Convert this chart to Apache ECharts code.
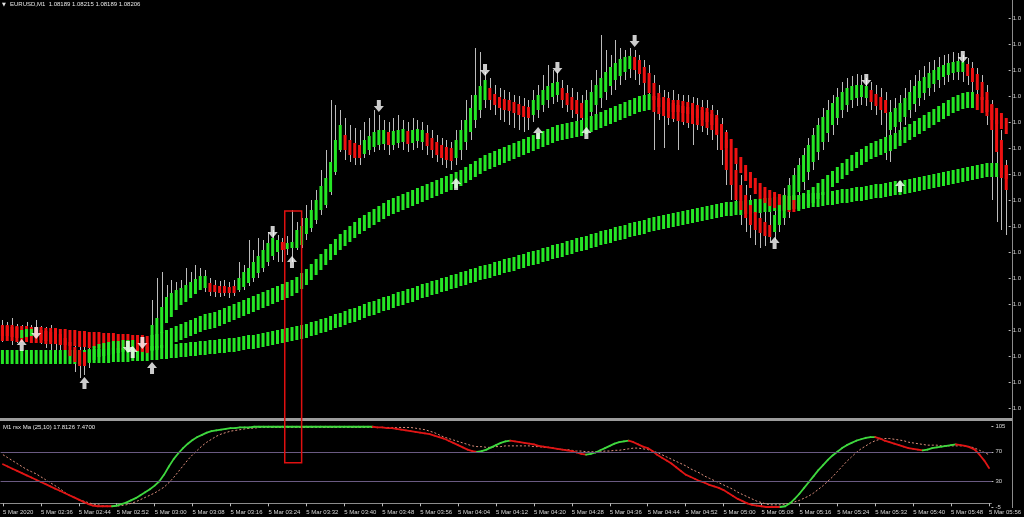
<!DOCTYPE html>
<html><head><meta charset="utf-8">
<script src="https://cdn.jsdelivr.net/npm/echarts@6/dist/echarts.min.js"></script>
<style>html,body{margin:0;padding:0;background:#000;overflow:hidden}#c{width:1024px;height:517px}</style>
</head><body><div id="c"></div>
<script>
// ---------- data ----------
const symbolName = 'EURUSD,M1';
const quote = [1.08189, 1.08215, 1.08189, 1.08206];
const oscName = 'M1 rsx Ma (25,10)';
const oscValues = [17.8126, 7.4700];
const priceBase = 1.07936;           // price = priceBase + points / 100000
const startMinute = 2 * 60 + 28;     // first bar 02:28
const barCount = 209;
const timeTickLabels = ['5 Mar 2020','5 Mar 02:36','5 Mar 02:44','5 Mar 02:52','5 Mar 03:00','5 Mar 03:08','5 Mar 03:16','5 Mar 03:24','5 Mar 03:32','5 Mar 03:40','5 Mar 03:48','5 Mar 03:56','5 Mar 04:04','5 Mar 04:12','5 Mar 04:20','5 Mar 04:28','5 Mar 04:36','5 Mar 04:44','5 Mar 04:52','5 Mar 05:00','5 Mar 05:08','5 Mar 05:16','5 Mar 05:24','5 Mar 05:32','5 Mar 05:40','5 Mar 05:48','5 Mar 05:56'];
const timeTickEvery = 8;
const priceTicks = [92,118,144,170,196,222,248,274,300,326,352,378,404,430,456,482];
const oscTicks = [-5, 30, 70, 105];
const oscLevels = [30, 70];

// price bars (points)
const barHigh = [180,178,182,176,175,178,175,180,174,173,175,170,168,167,162,160,155,158,155,160,162,160,163,164,162,165,166,164,162,160,163,200,222,228,215,220,218,220,232,228,235,232,230,222,220,219,220,218,220,238,235,260,250,262,260,268,270,265,262,264,290,278,282,295,300,310,330,350,400,395,390,382,375,372,370,378,382,390,385,380,378,382,385,380,378,382,380,378,375,370,365,362,360,358,370,380,400,405,452,448,428,422,415,412,410,408,405,404,402,400,410,415,425,435,430,428,420,415,412,408,405,410,420,430,465,450,445,460,452,450,452,450,445,440,435,425,415,410,408,410,406,405,405,403,402,400,400,395,390,382,370,355,340,325,315,305,300,295,290,288,295,305,312,322,332,342,352,362,372,382,392,400,405,412,418,422,424,426,425,422,418,415,412,408,400,402,405,412,420,425,430,434,438,440,443,445,446,448,447,445,442,438,432,425,415,400,385,370,340];
const barLow = [158,160,155,157,160,160,158,159,156,152,150,148,145,142,138,128,122,125,132,138,140,142,143,145,144,146,145,144,144,142,140,148,160,175,185,188,195,200,202,205,208,210,208,204,203,203,204,202,204,208,210,214,218,222,228,234,240,238,238,245,238,250,252,260,268,276,285,292,305,325,348,340,338,335,335,342,345,348,350,350,345,350,352,350,348,350,352,350,345,342,338,335,332,330,335,340,350,360,372,382,392,390,385,380,378,375,372,370,368,370,378,382,388,392,396,398,392,388,382,375,370,372,372,385,392,400,405,410,415,420,422,420,415,405,390,350,380,352,375,378,350,375,372,355,370,368,365,360,350,335,315,300,285,275,268,262,255,252,254,258,260,268,275,282,290,300,310,320,330,340,350,358,365,375,382,388,392,394,395,394,390,385,375,340,338,360,368,375,382,388,394,400,404,408,412,415,418,420,420,418,415,408,400,390,375,300,278,270,265];

// fast smoothed band (open / close, points)
const fastOpen = [174,174,173,173,162,163,164,171,170,169,168,167,166,162,158,153,150,148,138,140,143,144,145,146,147,148,148,149,160,159,157,150,152,167,177,183,190,195,198,202,206,210,212,217,215,214,214,213,214,210,213,217,222,227,232,238,244,248,258,251,252,252,255,266,272,280,290,295,308,328,350,365,360,357,355,346,350,353,355,356,368,355,357,358,369,357,359,358,367,362,358,355,353,352,342,350,358,368,380,390,400,412,406,403,401,400,398,396,394,393,385,390,395,400,403,405,412,407,403,400,397,380,388,395,402,408,414,420,424,428,431,443,440,433,427,417,407,403,402,400,400,399,398,397,395,393,392,390,385,375,360,345,330,315,305,295,288,282,278,275,268,275,282,290,300,308,318,328,338,348,358,367,375,382,390,395,400,402,403,402,410,406,403,400,370,373,378,383,390,396,402,407,412,416,420,423,425,427,428,428,436,432,426,418,408,395,380,360,335];
const fastClose = [164,164,163,162,170,171,171,162,160,159,158,157,155,150,144,138,134,134,150,154,156,157,158,159,159,160,160,160,150,148,147,175,182,193,203,207,210,212,215,218,221,224,224,208,208,207,207,207,207,222,228,232,238,244,250,257,262,260,250,257,258,270,274,282,290,300,314,322,338,360,375,350,345,342,342,360,364,368,370,370,355,369,370,371,356,370,371,370,354,350,345,342,340,339,360,370,380,392,405,414,420,400,395,392,390,389,387,385,383,382,400,405,410,414,417,418,400,395,390,386,382,400,408,415,422,428,433,437,441,443,444,430,426,417,407,400,393,390,389,388,388,387,386,385,382,380,378,375,365,350,330,315,300,290,282,275,270,267,264,263,285,295,305,315,325,335,345,355,365,375,383,390,397,403,408,412,414,415,415,414,398,394,390,387,388,392,397,402,408,414,419,423,427,430,433,435,437,438,439,438,424,418,410,400,388,370,348,325,310];

// medium and slow bands (centre, points)
const mediumBand = [167,167,167,166,166,166,165,165,165,164,164,164,163,163,162,162,161,161,160,160,160,159,159,159,158,158,158,157,157,157,156,157,158,160,162,164,166,168,170,172,174,176,178,179,180,182,184,186,188,190,192,194,196,198,200,202,204,206,208,210,212,215,219,223,228,233,238,243,248,253,258,262,266,270,274,277,280,283,286,289,292,294,296,298,300,302,304,306,308,310,312,314,316,318,320,322,325,328,331,334,337,339,341,343,345,347,349,351,353,355,357,359,361,363,365,367,368,369,370,371,372,374,376,378,380,382,384,386,388,390,392,394,396,397,398,396,394,392,390,389,387,386,385,384,383,382,380,378,374,368,360,353,344,335,327,320,314,309,305,302,300,298,297,296,296,297,299,302,305,309,313,317,321,325,329,333,337,340,343,346,349,351,353,355,357,359,362,365,368,371,374,377,380,383,386,389,392,395,397,399,400,400,398,395,392,388,384,379,374];
const slowBand = [143,143,143,143,143,143,143,143,143,143,143,143,143,143,143,143,143,143,144,144,144,144,144,145,145,145,145,146,146,146,146,147,147,148,148,149,149,150,150,151,151,152,152,153,153,154,154,155,155,156,157,158,158,159,160,161,162,163,164,165,166,167,168,169,171,172,174,175,177,179,180,182,184,185,187,189,191,192,194,196,197,199,201,202,204,205,207,209,210,212,213,215,216,218,219,221,222,224,225,227,228,229,231,232,234,235,236,238,239,241,242,243,245,246,248,249,250,252,253,255,256,257,259,260,262,263,264,266,267,268,270,271,272,273,275,276,277,278,279,280,281,282,283,284,285,286,287,288,289,290,291,291,292,292,293,293,294,294,295,295,296,296,297,297,298,298,299,299,300,300,301,302,302,303,304,304,305,306,306,307,308,309,309,310,311,312,312,313,314,315,316,317,318,319,320,321,322,323,324,325,326,327,328,329,330,330,330,329,328];

// signal arrows [bar index, points]
const upArrows = [[4,155],[17,117],[27,148],[31,132],[60,238],[94,316],[111,367],[121,367],[160,257],[186,314]];
const downArrows = [[7,167],[26,153],[29,157],[56,268],[78,394],[100,430],[115,432],[131,459],[179,420],[199,443]];

// oscillator
const rsx = [53,50,47,44,41,38,35,32,29,26,23,20,17,14,11,8,5,2,-1,-3,-4,-4,-4,-4,-3,-1,1,4,7,11,15,19,24,30,39,50,60,68,75,81,86,90,93,96,98,99,100,101,102,102,103,103,103,104,104,104,104,104,104,104,104,104,104,104,104,104,104,104,104,104,104,104,104,104,104,104,104,104,104,103,103,102,102,101,100,99,98,97,96,95,94,92,90,88,85,82,79,76,73,71,70,71,73,76,79,82,84,85,84,83,82,81,80,78,77,76,75,74,73,72,71,69,67,66,67,69,72,75,78,81,83,84,85,83,80,77,75,71,66,62,58,54,49,44,39,36,33,30,28,25,23,21,18,14,10,6,3,0,-2,-3,-4,-5,-5,-5,-5,-4,0,6,13,21,29,37,45,52,59,65,70,75,79,82,85,87,89,90,90,88,85,83,81,79,77,75,74,73,72,73,75,76,77,78,79,80,79,78,76,73,66,58,48];
const rsxSignal = [66,62,58,54,50,46,43,40,36,32,28,24,20,15,11,8,5,3,1,-1,-2,-3,-4,-4,-4,-3,-2,0,2,5,8,11,14,18,22,28,35,43,51,59,66,72,78,83,87,91,94,96,98,99,100,101,102,102,103,103,103,103,103,103,103,103,103,103,103,103,103,103,103,103,103,103,103,103,103,103,103,103,103,103,103,103,103,103,103,103,103,102,101,100,98,96,93,90,88,86,84,82,80,78,77,77,76,76,77,77,78,78,78,78,78,78,77,77,76,76,75,74,73,73,72,71,71,70,70,70,70,71,71,72,72,73,74,75,75,74,73,71,69,66,63,60,57,54,51,47,44,41,37,34,31,28,25,22,19,15,12,9,6,3,1,-1,-2,-2,-2,-1,0,2,4,7,10,14,19,24,30,36,43,50,57,63,69,74,78,82,85,87,88,88,87,86,85,83,82,81,80,79,79,79,78,78,78,78,78,78,77,75,72,69,66];

// annotation box: bar positions and values
const box = {fromBar: 58.5, toBar: 62, priceTop: 289, oscBottom: 55};

// ---------- styles ----------
const GREEN = '#25e625', RED = '#ee1111';
const FONT = 'Liberation Sans';
const TXT = '#d6d6d6';

const categories = [];
for (let i = 0; i < barCount; i++) {
  const m = startMinute + i;
  categories.push(String(Math.floor(m / 60)).padStart(2, '0') + ':' + String(m % 60).padStart(2, '0'));
}
function dirs(arr) {
  const d = arr.map((v, i) => i === 0 ? 0 : Math.sign(v - arr[i - 1]));
  let cur = d.find(x => x !== 0) || 1;
  return d.map(x => { if (x !== 0) cur = x; return cur; });
}
const medDir = dirs(mediumBand), slowDir = dirs(slowBand), rsxDir = dirs(rsx);

function bandRender(halfSpan, dirArr) {
  return function (params, api) {
    const i = api.value(0), v = api.value(1);
    const a = api.coord([i, v + halfSpan]), b = api.coord([i, v - halfSpan]);
    return {type: 'rect', shape: {x: a[0] - 1.5, y: a[1], width: 3, height: b[1] - a[1]},
      style: {fill: dirArr[params.dataIndex] > 0 ? GREEN : RED}};
  };
}

const chart = echarts.init(document.getElementById('c'), null, {renderer: 'canvas'});
const tickFn = (idx) => idx % timeTickEvery === 0;

const option = {
  backgroundColor: '#000',
  animation: false,
  grid: [
    {left: 0, top: 0, width: 1012, height: 418},
    {left: 0, top: 426, width: 1012, height: 81}
  ],
  xAxis: [
    {type: 'category', gridIndex: 0, data: categories, boundaryGap: true,
      axisLine: {show: false}, axisTick: {show: false}, axisLabel: {show: false}, splitLine: {show: false}},
    {type: 'category', gridIndex: 1, data: categories, boundaryGap: true,
      axisLine: {show: true, lineStyle: {color: '#8c8c8c', width: 1}},
      axisTick: {show: true, interval: tickFn, alignWithLabel: true, length: 3, lineStyle: {color: '#bdbdbd'}},
      axisLabel: {interval: tickFn, align: 'left', margin: 2, fontSize: 6, fontFamily: FONT, color: TXT,
        formatter: (v, idx) => timeTickLabels[Math.round(idx / timeTickEvery)] || ''},
      splitLine: {show: false}}
  ],
  yAxis: [
    {type: 'value', gridIndex: 0, position: 'right', min: 82, max: 500,
      splitLine: {show: false}, axisLine: {show: false},
      axisTick: {show: true, customValues: priceTicks, length: 2, lineStyle: {color: '#bdbdbd'}},
      axisLabel: {customValues: priceTicks, fontSize: 6, fontFamily: FONT, color: TXT, margin: 4,
        width: 10, overflow: 'truncate', ellipsis: '',
        formatter: v => (priceBase + v / 100000).toFixed(5)}},
    {type: 'value', gridIndex: 1, position: 'right', min: -5, max: 105,
      splitLine: {show: false}, axisLine: {show: false},
      axisTick: {show: true, customValues: oscTicks, length: 2, lineStyle: {color: '#bdbdbd'}},
      axisLabel: {customValues: oscTicks, fontSize: 6, fontFamily: FONT, color: TXT, margin: 4}}
  ],
  series: [
    {type: 'custom', name: 'bars', xAxisIndex: 0, yAxisIndex: 0, z: 1,
      data: barHigh.map((h, i) => [i, h, barLow[i]]),
      encode: {x: 0, y: [1, 2]},
      renderItem: (params, api) => {
        const i = api.value(0);
        const a = api.coord([i, api.value(1)]), b = api.coord([i, api.value(2)]);
        const x = Math.round(a[0]) + 0.5;
        return {type: 'line', shape: {x1: x, y1: a[1], x2: x, y2: b[1]}, style: {stroke: '#bcbcbc', lineWidth: 1}};
      }},
    {type: 'custom', name: 'slow', xAxisIndex: 0, yAxisIndex: 0, z: 2,
      data: slowBand.map((v, i) => [i, v]), encode: {x: 0, y: 1},
      renderItem: bandRender(7, slowDir)},
    {type: 'custom', name: 'medium', xAxisIndex: 0, yAxisIndex: 0, z: 3,
      data: mediumBand.map((v, i) => [i, v]), encode: {x: 0, y: 1},
      renderItem: bandRender(8, medDir)},
    {type: 'custom', name: 'fast', xAxisIndex: 0, yAxisIndex: 0, z: 4,
      data: fastOpen.map((o, i) => [i, o, fastClose[i]]), encode: {x: 0, y: [1, 2]},
      renderItem: (params, api) => {
        const i = api.value(0), o = api.value(1), c = api.value(2);
        const a = api.coord([i, Math.max(o, c)]), b = api.coord([i, Math.min(o, c)]);
        return {type: 'rect', shape: {x: a[0] - 1.5, y: a[1], width: 3, height: Math.max(1, b[1] - a[1])},
          style: {fill: c >= o ? GREEN : RED}};
      }},
    {type: 'scatter', name: 'up', xAxisIndex: 0, yAxisIndex: 0, z: 6, data: upArrows,
      symbol: 'path://M5,0 L10,5.5 L7,5.5 L7,11 L3,11 L3,5.5 L0,5.5 Z', symbolSize: [10, 12],
      itemStyle: {color: '#ffffff'}},
    {type: 'scatter', name: 'down', xAxisIndex: 0, yAxisIndex: 0, z: 6, data: downArrows,
      symbol: 'path://M3,0 L7,0 L7,5.5 L10,5.5 L5,11 L0,5.5 L3,5.5 Z', symbolSize: [10, 12],
      itemStyle: {color: '#ffffff'}},
    {type: 'line', name: 'signal', xAxisIndex: 1, yAxisIndex: 1, z: 3, data: rsxSignal,
      showSymbol: false, lineStyle: {color: '#dc8e7c', width: 1, type: [2, 2]},
      markLine: {silent: true, symbol: 'none', label: {show: false},
        lineStyle: {color: '#6a5a82', width: 1, type: 'solid'},
        data: oscLevels.map(v => ({yAxis: v}))}},
    {type: 'custom', name: 'rsx', xAxisIndex: 1, yAxisIndex: 1, z: 4,
      data: rsx.map((v, i) => [i, v, i > 0 ? rsx[i - 1] : v]), encode: {x: 0, y: 1},
      renderItem: (params, api) => {
        const i = api.value(0);
        if (i === 0) return null;
        const a = api.coord([i - 1, api.value(2)]), b = api.coord([i, api.value(1)]);
        return {type: 'line', shape: {x1: a[0], y1: a[1], x2: b[0], y2: b[1]},
          style: {stroke: rsxDir[params.dataIndex] > 0 ? '#3fd83f' : '#e01515', lineWidth: 1.8, lineCap: 'round'}};
      }}
  ],
  graphic: [
    {type: 'rect', id: 'sep', shape: {x: 0, y: 418, width: 1013, height: 3}, style: {fill: '#9c9c9c'}, z: 10},
    {type: 'line', id: 'rline', shape: {x1: 1012.5, y1: 0, x2: 1012.5, y2: 508}, style: {stroke: '#8c8c8c', lineWidth: 1}, z: 10},
    {type: 'text', id: 'tri', left: 2, top: 2, style: {text: '▼', fontSize: 5, fontFamily: 'DejaVu Sans', fill: '#e6e6e6'}, z: 10},
    {type: 'text', id: 'hdr', left: 10, top: 1, style: {text: symbolName + '  ' + quote.map(q => q.toFixed(5)).join(' '),
      fontSize: 6, fontFamily: FONT, fill: '#e6e6e6'}, z: 10},
    {type: 'text', id: 'osc', left: 3, top: 424, style: {text: oscName + ' ' + oscValues.map(v => v.toFixed(4)).join(' '),
      fontSize: 6, fontFamily: FONT, fill: '#e6e6e6'}, z: 10}
  ]
};
chart.setOption(option);

// annotation box from bar / value positions
const p0 = chart.convertToPixel({xAxisIndex: 0}, 0), p1 = chart.convertToPixel({xAxisIndex: 0}, 1);
const step = p1 - p0;
const bx0 = p0 + box.fromBar * step, bx1 = p0 + box.toBar * step;
const by0 = chart.convertToPixel({yAxisIndex: 0}, box.priceTop);
const by1 = chart.convertToPixel({yAxisIndex: 1}, box.oscBottom);
chart.setOption({graphic: [{type: 'rect', id: 'box', shape: {x: bx0, y: by0, width: bx1 - bx0, height: by1 - by0},
  style: {fill: 'none', stroke: '#e01010', lineWidth: 1.5}, z: 20}]});
</script>
</body></html>
